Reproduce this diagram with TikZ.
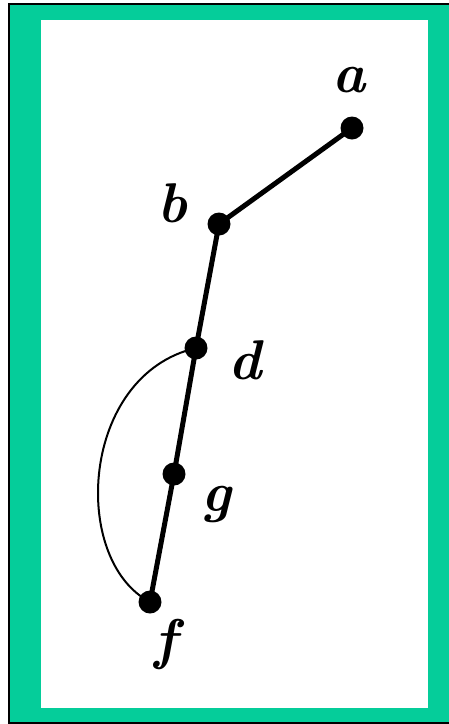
\documentclass[tikz,border=0pt]{standalone}
\usepackage{xcolor}
\definecolor{frame-green}{HTML}{05CD9A}

\begin{document}
\begin{tikzpicture}[x=1pt, y=-1pt,
        vertex/.style={circle, fill=black, inner sep=0pt, minimum size=23pt},
        vlabel/.style={anchor=base, inner sep=0pt,
                       font=\fontsize{56}{64}\selectfont\bfseries\itshape}]
      \useasboundingbox (0,0) rectangle (449,724);
      % frame
      \fill[black] (8,3) rectangle (449,724);
      \fill[frame-green] (10,5) rectangle (449,722);
      \fill[frame-green] (440,5) rectangle (449.9,722);
      \fill[white] (41,20) rectangle (428,708);
      % vertices
      \node[vertex] (a) at (352,128) {};
      \node[vertex] (b) at (219,224) {};
      \node[vertex] (d) at (196,348) {};
      \node[vertex] (g) at (174,474) {};
      \node[vertex] (f) at (150,602) {};
      % labels
      \node[vlabel] (la) at (349,92) {a};
      \node[vlabel] (lb) at (172,222) {b};
      \node[vlabel] (ld) at (245,379) {d};
      \node[vlabel] (lg) at (216,511) {g};
      \node[vlabel] (lf) at (166,658) {f};
      % edges
      \draw[line width=5pt] (a.center) -- (b.center) -- (d.center)
            -- (g.center) -- (f.center);
      \draw[line width=2pt] (d.center) .. controls (80,375) and (70,560) .. (f.center);
    \end{tikzpicture}
\end{document}
